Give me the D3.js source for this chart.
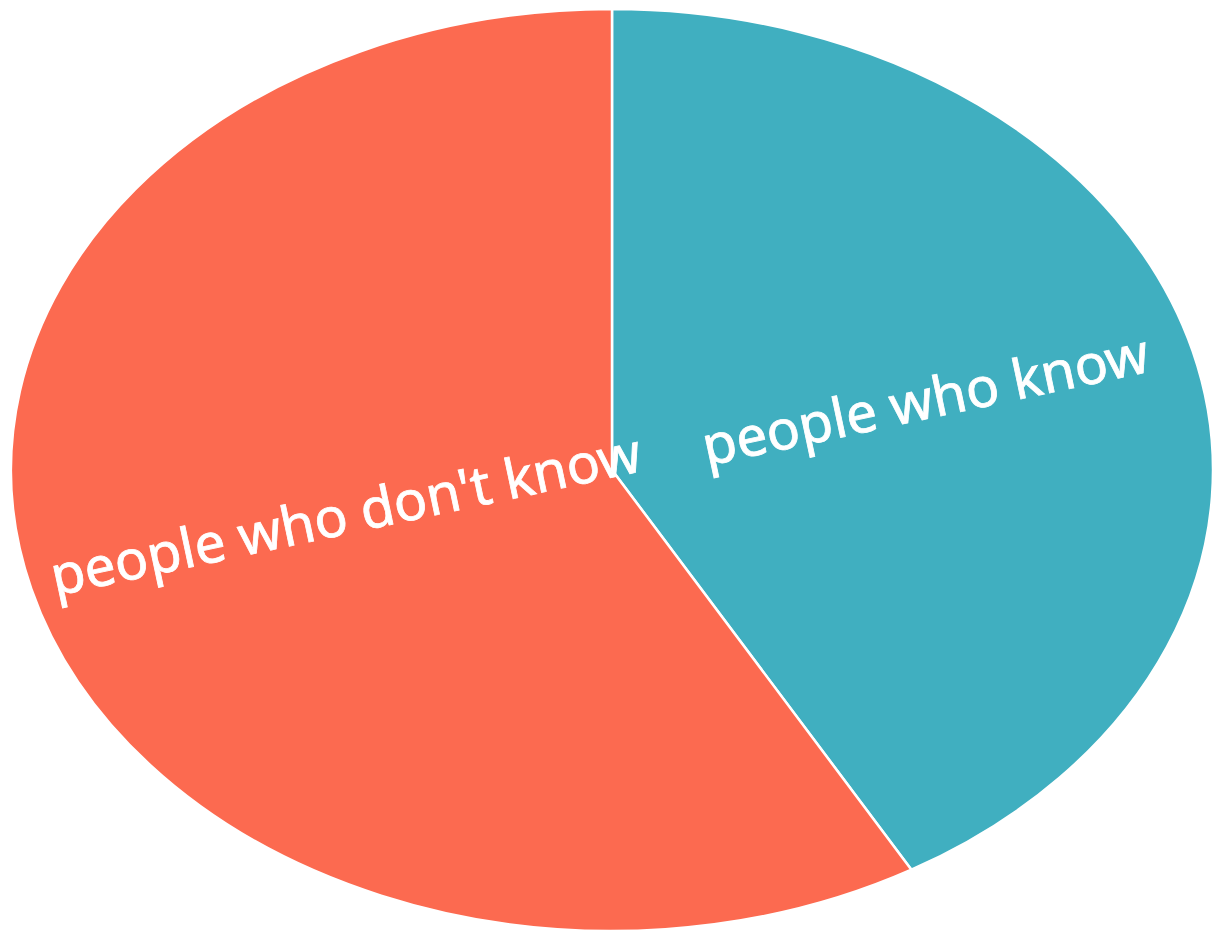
<!DOCTYPE html>
<html>
<head>
	<script src="https://d3js.org/d3.v7.min.js"></script>
	<style>
		body { margin: 0; background: #fff; }
	</style>
</head>
<body>
	<svg width="1219" height="935"></svg>
	<script>
		var labels = ["people who know", "people who don't know"];
		var values = [41.7, 58.3];
		var colors = ["#40AFC0", "#FC6A50"];

		var cx = 612, cy = 470;
		var rx = 601, ry = 461;

		var svg = d3.select("svg");

		var pie = d3.pie().sort(null).value(d => d)(values);

		var arc = d3.arc().innerRadius(0).outerRadius(ry);

		// squash a circle into the ellipse
		var g = svg.append("g")
			.attr("transform", `translate(${cx},${cy}) scale(${rx / ry},1)`);

		g.selectAll("path")
			.data(pie)
			.join("path")
			.attr("d", arc)
			.attr("fill", (d, i) => colors[i])
			.attr("stroke", "#fff")
			.attr("stroke-width", 2.5)
			.attr("vector-effect", "non-scaling-stroke");

		// labels at half radius, nudged
		var labelArc = d3.arc().innerRadius(ry).outerRadius(ry);
		var nudge = [[27, 8], [28, 4]];

		svg.append("g")
			.selectAll("g")
			.data(pie)
			.join("g")
			.attr("transform", (d, i) => {
				var c = labelArc.centroid(d);
				var x = cx + c[0] * 0.5 * rx / ry + nudge[i][0];
				var y = cy + c[1] * 0.5 + nudge[i][1];
				return `translate(${x},${y}) rotate(-12)`;
			})
			.append("text")
			.attr("text-anchor", "middle")
			.attr("fill", "#fff")
			.attr("stroke", "#fff")
			.attr("stroke-width", 0.8)
			.style("font-family", "'Noto Sans', sans-serif")
			.style("font-size", "55px")
			.text((d, i) => labels[i]);
	</script>
</body>
</html>
